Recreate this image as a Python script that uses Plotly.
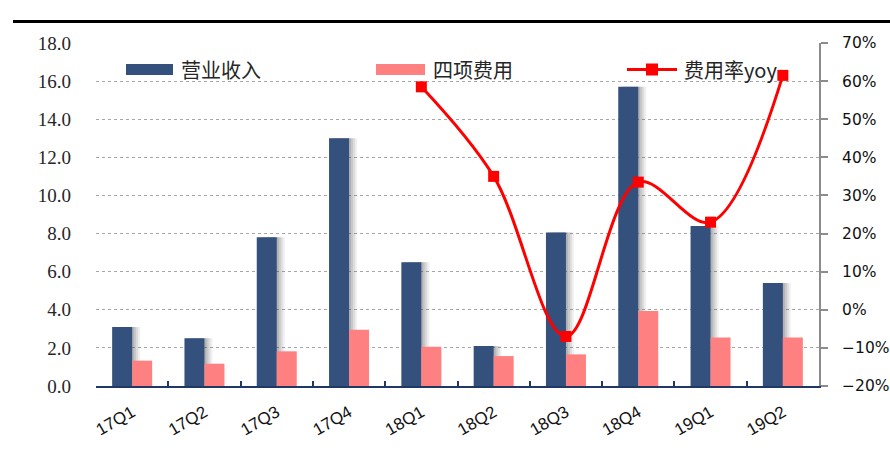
import plotly.graph_objects as go

# Quarterly data
quarters = ["17Q1", "17Q2", "17Q3", "17Q4", "18Q1", "18Q2", "18Q3", "18Q4", "19Q1", "19Q2"]
revenue = [3.1, 2.5, 7.8, 13.0, 6.5, 2.1, 8.05, 15.7, 8.4, 5.4]          # 营业收入
expenses = [1.33, 1.17, 1.82, 2.95, 2.06, 1.57, 1.66, 3.93, 2.55, 2.55]   # 四项费用
expense_yoy = [None, None, None, None, 0.585, 0.35, -0.07, 0.335, 0.23, 0.615]  # 费用率yoy

left_ticks = [0, 2, 4, 6, 8, 10, 12, 14, 16, 18]
left_tick_text = ["0.0", "2.0", "4.0", "6.0", "8.0", "10.0", "12.0", "14.0", "16.0", "18.0"]
right_ticks = [-0.2, -0.1, 0.0, 0.1, 0.2, 0.3, 0.4, 0.5, 0.6, 0.7]

NAVY = "#34507d"
PINK = "#ff8080"
RED = "#ff0000"

W, H = 890, 463
L, R, T, B = 96, 71, 43, 77
PW, PH = W - L - R, H - T - B
CAT = PW / len(quarters)          # pixels per category
BW = 20 / CAT                      # bar width in category units


def px(x):
    return (x - L) / PW


def py(y):
    return (H - B - y) / PH


fig = go.Figure()

# soft shadow to the right of the revenue bars
for k, op in [(8, 0.08), (6, 0.10), (4, 0.12), (2, 0.16)]:
    fig.add_trace(go.Bar(
        x=quarters, y=revenue, offset=-BW + k / CAT, width=BW,
        marker=dict(color=f"rgba(60,60,60,{op})", line=dict(width=0)),
        showlegend=False, hoverinfo="skip"))

fig.add_trace(go.Bar(
    x=quarters, y=revenue, offset=-BW, width=BW, name="营业收入",
    marker=dict(color=NAVY, line=dict(width=0)), showlegend=False))
fig.add_trace(go.Bar(
    x=quarters, y=expenses, offset=0, width=BW, name="四项费用",
    marker=dict(color=PINK, line=dict(width=0)), showlegend=False))
fig.add_trace(go.Scatter(
    x=quarters, y=expense_yoy, yaxis="y2", name="费用率yoy", mode="lines+markers",
    line=dict(color=RED, width=3, shape="spline", smoothing=1.0),
    marker=dict(symbol="square", size=11, color=RED),
    connectgaps=False, showlegend=False))

shapes = [
    # heavy rule across the top
    dict(type="line", xref="paper", yref="paper", x0=px(13), x1=px(890), y0=py(21.5), y1=py(21.5),
         line=dict(color="black", width=3)),
    # legend swatches
    dict(type="rect", xref="paper", yref="paper", x0=px(126), x1=px(173), y0=py(75), y1=py(64),
         fillcolor=NAVY, line=dict(width=0)),
    dict(type="rect", xref="paper", yref="paper", x0=px(376), x1=px(425), y0=py(75), y1=py(64),
         fillcolor=PINK, line=dict(width=0)),
    dict(type="line", xref="paper", yref="paper", x0=px(627), x1=px(677), y0=py(69.5), y1=py(69.5),
         line=dict(color=RED, width=3)),
    dict(type="rect", xref="paper", yref="paper", x0=px(646), x1=px(658), y0=py(75.5), y1=py(63.5),
         fillcolor=RED, line=dict(width=0)),
]

legend_font = dict(family="Noto Sans CJK SC", size=20, color="#262626")
annotations = [
    dict(text=t, x=px(x), y=py(69.5), xref="paper", yref="paper", xanchor="left", yanchor="middle",
         showarrow=False, font=legend_font)
    for t, x in [("营业收入", 179), ("四项费用", 431), ("费用率yoy", 682)]
]

fig.update_layout(
    width=W, height=H,
    margin=dict(l=L, r=R, t=T, b=B, autoexpand=False),
    paper_bgcolor="white", plot_bgcolor="white",
    barmode="overlay", showlegend=False,
    shapes=shapes, annotations=annotations,
    xaxis=dict(
        type="category", range=[-0.5, len(quarters) - 0.5],
        showline=True, linecolor="#1f3864", linewidth=2,
        ticks="inside", tickson="boundaries", ticklen=5, tickcolor="#1f3864", tickwidth=1.5,
        tickangle=-30, ticklabelstandoff=8,
        tickfont=dict(family="Liberation Sans", size=17, color="#111111"),
        showgrid=False,
    ),
    yaxis=dict(
        range=[0, 18], tickvals=left_ticks, ticktext=left_tick_text,
        showline=False, ticks="", zeroline=False,
        showgrid=True, gridcolor="#a6a6a6", griddash="dot", gridwidth=1,
        ticklabelstandoff=24,
        tickfont=dict(family="Liberation Serif", size=19, color="#262626"),
    ),
    yaxis2=dict(
        overlaying="y", side="right", range=[-0.2, 0.7], tickvals=right_ticks,
        tickformat=".0%", showgrid=False, zeroline=False,
        showline=True, linecolor="#8c8c8c", linewidth=2,
        ticks="outside", ticklen=7, tickcolor="#8c8c8c", tickwidth=1.5,
        ticklabelstandoff=11,
        tickfont=dict(family="DejaVu Sans", size=15.5, color="#111111"),
    ),
)

fig.write_html("out.html")
